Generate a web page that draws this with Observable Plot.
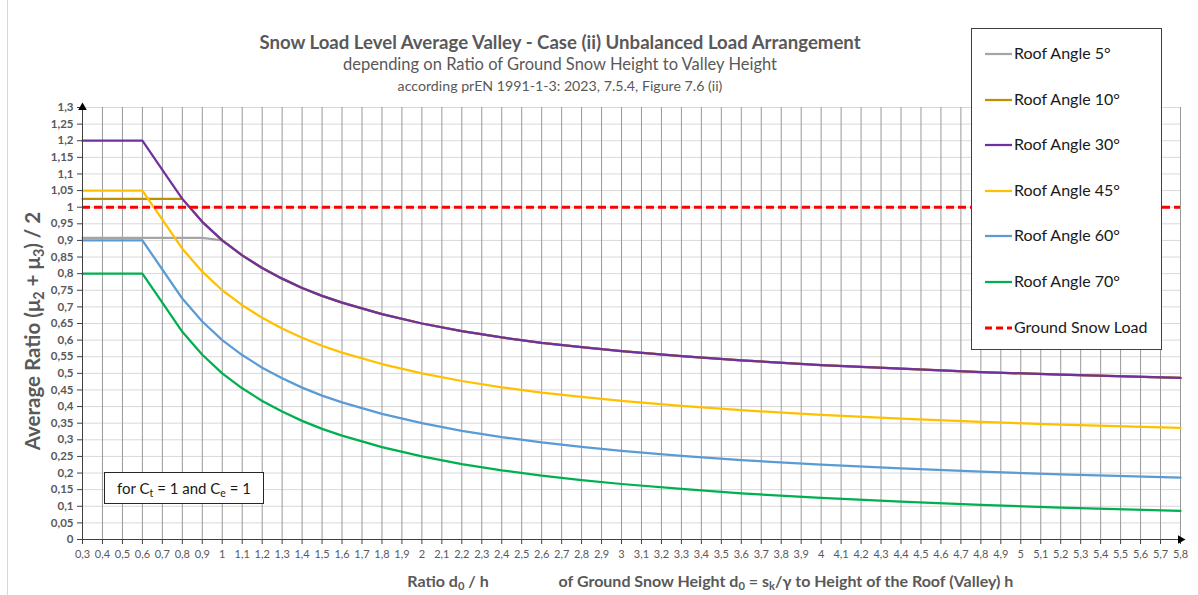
<!DOCTYPE html>
<html>
<head>
<meta charset="utf-8">
<script src="https://cdn.jsdelivr.net/npm/d3@7"></script>
<script src="https://cdn.jsdelivr.net/npm/@observablehq/plot@0.6"></script>
<style>
  html, body { margin: 0; padding: 0; background: #fff; }
  #wrap { position: relative; width: 1198px; height: 595px; overflow: hidden; font-family: Lato, "Open Sans", sans-serif; }
  #wrap > svg { position: absolute; left: 0; top: 0; }
  .t { position: absolute; white-space: nowrap; transform: translate(-50%, -50%); color: #595959; }
  .border { position: absolute; left: 7px; top: 0; width: 0; height: 595px; border-left: 1px solid #d9d9d9; }
  #legend { position: absolute; left: 971px; top: 28px; width: 189px; height: 320px; border: 1px solid #404040; background: #fff; }
  .li { position: absolute; left: 13px; height: 22px; transform: translateY(-50%); white-space: nowrap; font-size: 16px; line-height: 22px; color: #1a1a1a; }
  .li svg { display: inline-block; vertical-align: middle; margin-right: 2px; margin-top: -2px; }
  #note { position: absolute; left: 104px; top: 472px; width: 158px; height: 30px; border: 1px solid #262626; background: #fff; font-size: 15px; color: #1a1a1a; text-align: center; line-height: 30px; white-space: nowrap; }
  sub { font-size: 0.7em; vertical-align: -0.3em; line-height: 0; }
</style>
</head>
<body>
<div id="wrap"></div>
<script>
// ---- data ----
const ratios = [0.3, 0.6, 0.7, 0.8, 0.9, 1.0, 1.1, 1.2, 1.3, 1.4, 1.5, 1.6, 1.8, 2.0, 2.2, 2.4, 2.6, 2.8, 3.0, 3.3, 3.6, 4.0, 4.4, 4.8, 5.2, 5.8];
const roof5  = [0.908, 0.908, 0.908, 0.908, 0.908, 0.9, 0.855, 0.817, 0.785, 0.757, 0.733, 0.713, 0.678, 0.65, 0.627, 0.608, 0.592, 0.579, 0.567, 0.552, 0.539, 0.525, 0.514, 0.504, 0.496, 0.486];
const roof10 = [1.025, 1.025, 1.025, 1.025, 0.956, 0.9, 0.855, 0.817, 0.785, 0.757, 0.733, 0.713, 0.678, 0.65, 0.627, 0.608, 0.592, 0.579, 0.567, 0.552, 0.539, 0.525, 0.514, 0.504, 0.496, 0.486];
const roof30 = [1.2, 1.2, 1.1125, 1.025, 0.956, 0.9, 0.855, 0.817, 0.785, 0.757, 0.733, 0.713, 0.678, 0.65, 0.627, 0.608, 0.592, 0.579, 0.567, 0.552, 0.539, 0.525, 0.514, 0.504, 0.496, 0.486];
const roof45 = [1.05, 1.05, 0.9625, 0.875, 0.806, 0.75, 0.705, 0.667, 0.635, 0.607, 0.583, 0.5625, 0.528, 0.5, 0.477, 0.458, 0.442, 0.429, 0.417, 0.402, 0.389, 0.375, 0.364, 0.354, 0.346, 0.336];
const roof60 = [0.9, 0.9, 0.8125, 0.725, 0.656, 0.6, 0.555, 0.517, 0.485, 0.457, 0.433, 0.4125, 0.378, 0.35, 0.327, 0.308, 0.292, 0.279, 0.267, 0.252, 0.239, 0.225, 0.214, 0.204, 0.196, 0.186];
const roof70 = [0.8, 0.8, 0.7125, 0.625, 0.556, 0.5, 0.455, 0.417, 0.385, 0.357, 0.333, 0.3125, 0.278, 0.25, 0.227, 0.208, 0.192, 0.179, 0.167, 0.152, 0.139, 0.125, 0.114, 0.104, 0.096, 0.086];
const groundSnowLoad = 1;
const seriesNames = ["Roof Angle 5°", "Roof Angle 10°", "Roof Angle 30°", "Roof Angle 45°", "Roof Angle 60°", "Roof Angle 70°"];
const seriesValues = [roof5, roof10, roof30, roof45, roof60, roof70];
const groundName = "Ground Snow Load";
const xTicks = [0.3,0.4,0.5,0.6,0.7,0.8,0.9,1,1.1,1.2,1.3,1.4,1.5,1.6,1.7,1.8,1.9,2,2.1,2.2,2.3,2.4,2.5,2.6,2.7,2.8,2.9,3,3.1,3.2,3.3,3.4,3.5,3.6,3.7,3.8,3.9,4,4.1,4.2,4.3,4.4,4.5,4.6,4.7,4.8,4.9,5,5.1,5.2,5.3,5.4,5.5,5.6,5.7,5.8];
const yTicks = [0,0.05,0.1,0.15,0.2,0.25,0.3,0.35,0.4,0.45,0.5,0.55,0.6,0.65,0.7,0.75,0.8,0.85,0.9,0.95,1,1.05,1.1,1.15,1.2,1.25,1.3];

// ---- styles ----
const colors = ["#a5a5a5", "#bf9000", "#7030a0", "#ffc000", "#5b9bd5", "#00b050"];
const groundColor = "#ff0000";
const comma = d => String(d).replace(".", ",");

const rows = seriesValues.flatMap((vals, i) => vals.map((v, j) => ({series: seriesNames[i], x: ratios[j], y: v})));

const chart = Plot.plot({
  width: 1198,
  height: 595,
  marginLeft: 82,
  marginRight: 18,
  marginTop: 107,
  marginBottom: 56,
  style: {fontFamily: "Lato, 'Open Sans', sans-serif", background: "transparent"},
  x: {domain: [xTicks[0], xTicks[xTicks.length - 1]]},
  y: {domain: [yTicks[0], yTicks[yTicks.length - 1]]},
  marks: [
    Plot.gridY(yTicks, {stroke: "#d9d9d9", strokeOpacity: 1, strokeWidth: 1}),
    Plot.gridX(xTicks, {stroke: "#999999", strokeOpacity: 1, strokeWidth: 1}),
    ...seriesNames.map((name, i) =>
      Plot.line(rows.filter(r => r.series === name), {x: "x", y: "y", stroke: colors[i], strokeWidth: 2.25})
    ),
    Plot.ruleY([groundSnowLoad], {stroke: groundColor, strokeWidth: 3, strokeDasharray: "8,4"}),
    Plot.ruleX([xTicks[0]], {stroke: "#404040", strokeWidth: 1}),
    Plot.ruleY([yTicks[0]], {stroke: "#404040", strokeWidth: 1}),
    Plot.axisY(yTicks, {tickFormat: comma, tickSize: 5, tickPadding: 4, fontSize: 11.5, fontWeight: "bold", fill: "#595959", stroke: "#404040", label: null}),
    Plot.axisX(xTicks, {tickFormat: comma, tickSize: 5, tickPadding: 6, fontSize: 11, fill: "#595959", stroke: "#404040", label: null}),
    Plot.dot([0], {frameAnchor: "top-left", symbol: "triangle", r: 3.2, fill: "#000", stroke: "none"}),
    Plot.dot([0], {frameAnchor: "bottom-right", symbol: "triangle", rotate: 90, r: 3.2, fill: "#000", stroke: "none"})
  ]
});

const wrap = document.getElementById("wrap");
wrap.appendChild(chart);

function addText(html, x, y, style) {
  const d = document.createElement("div");
  d.className = "t";
  d.innerHTML = html;
  d.style.left = x + "px";
  d.style.top = y + "px";
  Object.assign(d.style, style || {});
  wrap.appendChild(d);
  return d;
}
const b = document.createElement("div"); b.className = "border"; wrap.appendChild(b);

addText("Snow Load Level Average Valley - Case (ii) Unbalanced Load Arrangement", 560, 42, {fontSize: "18.6px", fontWeight: "bold"});
addText("depending on Ratio of Ground Snow Height to Valley Height", 560, 64, {fontSize: "16.5px"});
addText("according prEN 1991-1-3: 2023, 7.5.4, Figure 7.6 (ii)", 560, 85, {fontSize: "14.2px"});
addText("Average Ratio (μ<sub>2</sub> + μ<sub>3</sub>) / 2", 32, 331, {fontSize: "20.5px", fontWeight: "bold", transform: "translate(-50%, -50%) rotate(-90deg)"});
addText("Ratio d<sub>0</sub> / h", 448, 580, {fontSize: "16px", fontWeight: "bold"});
addText("of Ground Snow Height d<sub>0</sub> = s<sub>k</sub>/γ to Height of the Roof (Valley) h", 786, 580, {fontSize: "16px", fontWeight: "bold"});

// legend
const legend = document.createElement("div");
legend.id = "legend";
const legendItems = seriesNames.map((n, i) => ({name: n, color: colors[i], dash: null}))
  .concat([{name: groundName, color: groundColor, dash: "7,4"}]);
legendItems.forEach((it, i) => {
  const li = document.createElement("div");
  li.className = "li";
  li.style.top = (24 + i * 45.6) + "px";
  const w = it.dash ? 3 : 2.25;
  li.innerHTML = `<svg width="27" height="6"><line x1="0" x2="27" y1="3" y2="3" stroke="${it.color}" stroke-width="${w}" ${it.dash ? `stroke-dasharray="${it.dash}"` : ""}/></svg><span>${it.name}</span>`;
  legend.appendChild(li);
});
wrap.appendChild(legend);

const note = document.createElement("div");
note.id = "note";
note.innerHTML = "<span>for C<sub>t</sub> = 1 and C<sub>e</sub> = 1</span>";
wrap.appendChild(note);
</script>
</body>
</html>
